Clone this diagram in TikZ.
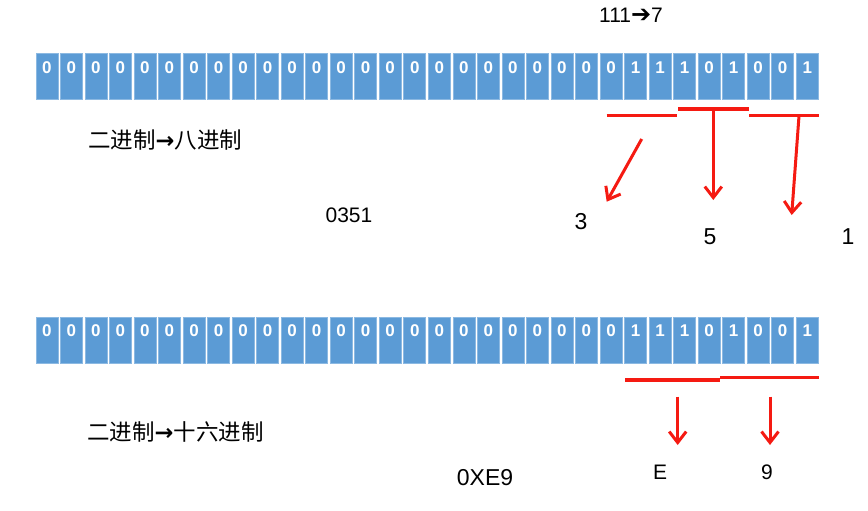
\documentclass[tikz,border=0pt]{standalone}
\usepackage{fontspec}
\setmainfont{Liberation Sans}
\newfontfamily\cjk{Noto Sans CJK SC}
\newfontfamily\djv{DejaVu Sans}
\usetikzlibrary{arrows.meta}
\definecolor{cellblue}{HTML}{5B9BD5}
\definecolor{redline}{HTML}{F51A12}
\begin{document}
\begin{tikzpicture}[x=1pt,y=-1pt,
  cell/.style={fill=cellblue, draw=cellblue!70!white, line width=0.6pt, minimum width=22pt, minimum height=46pt, inner sep=0pt, anchor=north west},
  celltext/.style={text=white, font=\bfseries\fontsize{17}{17}\selectfont, inner sep=0pt},
  bar/.style={redline, line width=3.5pt},
  redarrow/.style={redline, line width=3pt, -{Straight Barb[length=11pt,width=17pt]}},
  lbl/.style={font=\fontsize{21}{21}\selectfont, inner sep=0pt},
  biglbl/.style={font=\fontsize{23}{23}\selectfont, inner sep=0pt},
  cjklbl/.style={font=\cjk\fontsize{22.5}{22.5}\selectfont, inner sep=0pt, anchor=west}]
\useasboundingbox[fill=white] (0,0) rectangle (868,511);
\foreach \b [count=\n] in {0,0,0,0,0,0,0,0,0,0,0,0,0,0,0,0,0,0,0,0,0,0,0,0,1,1,1,0,1,0,0,1} {
  \node[cell] (a\n) at ({35.5+(\n-1)*24.53},53) {};
  \node[celltext] (ta\n) at ([yshift=-14.5pt]a\n.north) {\b};
  \node[cell] (b\n) at ({35.5+(\n-1)*24.53},316.5) {};
  \node[celltext] (tb\n) at ([yshift=-14.5pt]b\n.north) {\b};
}
% top label
\node[lbl] (t7) at (631,15) {111{\djv\bfseries\fontsize{24}{24}\selectfont ➔}7};
% octal section
\node[cjklbl] (oct) at (88,140) {二进制{\djv\bfseries →}八进制};
\node[lbl] (o351) at (349,215) {0351};
\coordinate (l1a) at (606.7,115.7); \coordinate (l1b) at (676.7,115.7);
\coordinate (l2a) at (678,109); \coordinate (l2b) at (749,109);
\coordinate (l3a) at (749,115.7); \coordinate (l3b) at (819,115.7);
\draw[bar] (l1a) -- (l1b);
\draw[bar] (l2a) -- (l2b);
\draw[bar] (l3a) -- (l3b);
\coordinate (s1) at (641.7,139); \coordinate (e1) at (606.7,201.7);
\coordinate (s2) at (713.3,110); \coordinate (e2) at (713.3,200);
\coordinate (s3) at (799,116); \coordinate (e3) at (791.7,215);
\draw[redarrow] (s1) -- (e1);
\draw[redarrow] (s2) -- (e2);
\draw[redarrow] (s3) -- (e3);
\node[biglbl] (d3) at (581,222) {3};
\node[biglbl] (d5) at (710,237) {5};
\node[biglbl] (d1) at (848,237) {1};
% hex section
\node[cjklbl] (hex) at (87,432) {二进制{\djv\bfseries →}十六进制};
\node[biglbl] (h0) at (485,478) {0XE9};
\coordinate (m1a) at (625,380); \coordinate (m1b) at (720,380);
\coordinate (m2a) at (720,377.7); \coordinate (m2b) at (819,377.7);
\draw[bar] (m1a) -- (m1b);
\draw[bar] (m2a) -- (m2b);
\coordinate (hs1) at (677.7,396.7); \coordinate (he1) at (677.7,445);
\coordinate (hs2) at (770,396.7); \coordinate (he2) at (770,445);
\draw[redarrow] (hs1) -- (he1);
\draw[redarrow] (hs2) -- (he2);
\node[lbl] (hE) at (660,472) {E};
\node[lbl] (h9) at (767,472) {9};
\end{tikzpicture}
\end{document}
